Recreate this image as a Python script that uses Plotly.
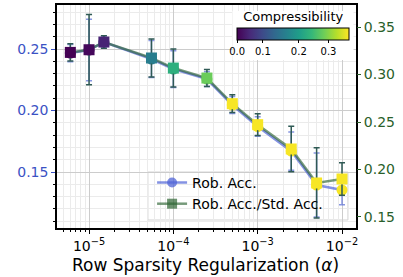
import numpy as np
import plotly.graph_objects as go

# ---- data ----
alpha = [6e-6, 1e-5, 1.5e-5, 5.5e-5, 1e-4, 2.5e-4, 5e-4, 1e-3, 2.5e-3, 5e-3, 1e-2]
rob_acc = [0.2467, 0.2492, 0.2557, 0.2419, 0.2337, 0.2256, 0.2045, 0.1870, 0.1670, 0.1394, 0.1354]
rob_acc_err = [0.007, 0.025, 0.005, 0.015, 0.015, 0.006, 0.007, 0.008, 0.0155, 0.026, 0.012]
ratio = [0.3233, 0.3261, 0.3342, 0.3174, 0.3068, 0.2963, 0.2693, 0.2472, 0.2216, 0.1858, 0.1900]
ratio_err = [0.009, 0.037, 0.0065, 0.020, 0.020, 0.009, 0.0093, 0.0115, 0.024, 0.037, 0.017]
compress = [0.0, 0.009, 0.044, 0.16, 0.23, 0.283, 0.36, 0.36, 0.36, 0.36, 0.36]

cbar_tick_vals = [0.0, 0.1, 0.2, 0.3]
cbar_tick_text = ["0.0", "0.1", "0.2", "0.3"]
# colour-bar geometry in the reference (non-uniform spacing of ticks)
cbar_pos = [0.0, 0.229, 0.55, 0.815, 1.0]
cbar_knots = [0.0, 0.1, 0.2, 0.3, 0.363]

x_major = [1e-5, 1e-4, 1e-3, 1e-2]
x_major_text = ["10<sup>\u22125</sup>", "10<sup>\u22124</sup>", "10<sup>\u22123</sup>", "10<sup>\u22122</sup>"]

y_left_ticks = [0.15, 0.20, 0.25]
y_left_text = ["0.15", "0.20", "0.25"]
y_right_ticks = [0.15, 0.20, 0.25, 0.30, 0.35]
y_right_text = ["0.15", "0.20", "0.25", "0.30", "0.35"]

col_norm = list(np.interp(compress, cbar_knots, cbar_pos))
cb_tickpos = list(np.interp(cbar_tick_vals, cbar_knots, cbar_pos))

x_minor = [k * 10.0 ** e for e in range(-6, -1) for k in range(2, 10)]

FONT = "DejaVu Sans"
BLUE_TXT = "#3b52c4"
GREEN_TXT = "#2a5f2a"

fig = go.Figure()

# Rob. Acc. (left axis)
fig.add_trace(go.Scatter(
    x=alpha, y=rob_acc, mode="lines+markers", yaxis="y", showlegend=False,
    line=dict(color="rgba(80,100,215,0.7)", width=2.5),
    error_y=dict(type="data", array=rob_acc_err, color="rgba(95,115,215,0.75)", thickness=1.5, width=3),
    marker=dict(symbol="circle", size=11, color=col_norm, colorscale="Viridis", cmin=0, cmax=1,
                line=dict(width=0)),
))

# Rob. Acc./Std. Acc. (right axis)
fig.add_trace(go.Scatter(
    x=alpha, y=ratio, mode="lines+markers", yaxis="y2", showlegend=False,
    line=dict(color="rgba(45,100,50,0.65)", width=2.5),
    error_y=dict(type="data", array=ratio_err, color="#2f5a55", thickness=1.5, width=3),
    marker=dict(symbol="square", size=11, color=col_norm, colorscale="Viridis", cmin=0, cmax=1,
                line=dict(width=0),
                colorbar=dict(
                    orientation="h", x=0.79, xanchor="center", y=0.975, yanchor="top",
                    len=0.40, lenmode="fraction", thickness=12,
                    title=dict(text="Compressibility", side="top", font=dict(size=13, family=FONT, color="black")),
                    tickvals=cb_tickpos, ticktext=cbar_tick_text,
                    tickfont=dict(size=10, family=FONT, color="black"),
                    ticks="outside", ticklen=3, tickcolor="black",
                    outlinecolor="black", outlinewidth=1,
                    bgcolor="white", xpad=4, ypad=2,
                )),
))

# legend entries
fig.add_trace(go.Scatter(x=[None], y=[None], mode="lines+markers", name="Rob. Acc.",
                         line=dict(color="rgba(80,100,215,0.7)", width=2.5),
                         marker=dict(symbol="circle", size=10, color="rgba(80,100,215,0.75)")))
fig.add_trace(go.Scatter(x=[None], y=[None], mode="lines+markers", name="Rob. Acc./Std. Acc.",
                         line=dict(color="rgba(45,100,50,0.65)", width=2.5),
                         marker=dict(symbol="square", size=10, color="rgba(45,100,50,0.7)")))

# legend frame drawn beneath the data (as in the reference)
fig.add_shape(type="rect", xref="paper", yref="paper", x0=0.304, x1=0.973, y0=0.036, y1=0.251,
              layer="below", line=dict(color="#d3d3d3", width=1), fillcolor="rgba(255,255,255,0.75)")

fig.add_annotation(text="Row Sparsity Regularization (<i>\u03b1</i>)", xref="paper", yref="paper",
                   x=0.495, y=-0.166, xanchor="center", yanchor="middle", showarrow=False,
                   font=dict(size=17, family=FONT, color="black"))

fig.update_layout(
    width=403, height=277,
    margin=dict(l=57, r=47, t=5, b=49, autoexpand=False),
    paper_bgcolor="white", plot_bgcolor="white",
    font=dict(family=FONT, size=14, color="black"),
    legend=dict(x=0.318, y=0.274, xanchor="left", yanchor="top",
                bgcolor="rgba(0,0,0,0)", borderwidth=0,
                font=dict(size=14, family=FONT, color="black"), itemwidth=30,
                tracegroupgap=0),
    xaxis=dict(
        type="log", range=[-5.38, -1.834],
        tickvals=x_major, ticktext=x_major_text,
        ticks="outside", ticklen=4, tickcolor="black", tickwidth=1,
        showgrid=True, gridcolor="#cccccc", gridwidth=1,
        showline=True, linecolor="black", linewidth=1.5, mirror=True,
        tickfont=dict(size=14, family=FONT, color="black"),
        minor=dict(tickvals=x_minor, ticks="outside", ticklen=2, tickcolor="black",
                   showgrid=True, gridcolor="#ebebeb", gridwidth=1),
        zeroline=False,
    ),
    yaxis=dict(
        range=[0.1045, 0.2858], tickvals=y_left_ticks, ticktext=y_left_text,
        ticks="outside", ticklen=4, tickcolor=BLUE_TXT, tickwidth=1,
        tickfont=dict(size=14, family=FONT, color=BLUE_TXT),
        showgrid=True, gridcolor="#cccccc", gridwidth=1,
        showline=True, linecolor="black", linewidth=1.5, mirror=True,
        minor=dict(dtick=0.01, tick0=0, ticks="outside", ticklen=2.5, tickcolor="black",
                   showgrid=True, gridcolor="#ebebeb", gridwidth=1),
        zeroline=False,
    ),
    yaxis2=dict(
        overlaying="y", side="right", range=[0.1384, 0.3732],
        tickvals=y_right_ticks, ticktext=y_right_text,
        ticks="outside", ticklen=4, tickcolor=GREEN_TXT, tickwidth=1,
        tickfont=dict(size=14, family=FONT, color=GREEN_TXT),
        showgrid=False, showline=False, zeroline=False,
    ),
)

fig.write_html("out.html", config={"displayModeBar": False},
               post_script="document.body.style.margin='0';document.body.style.overflow='hidden';")
